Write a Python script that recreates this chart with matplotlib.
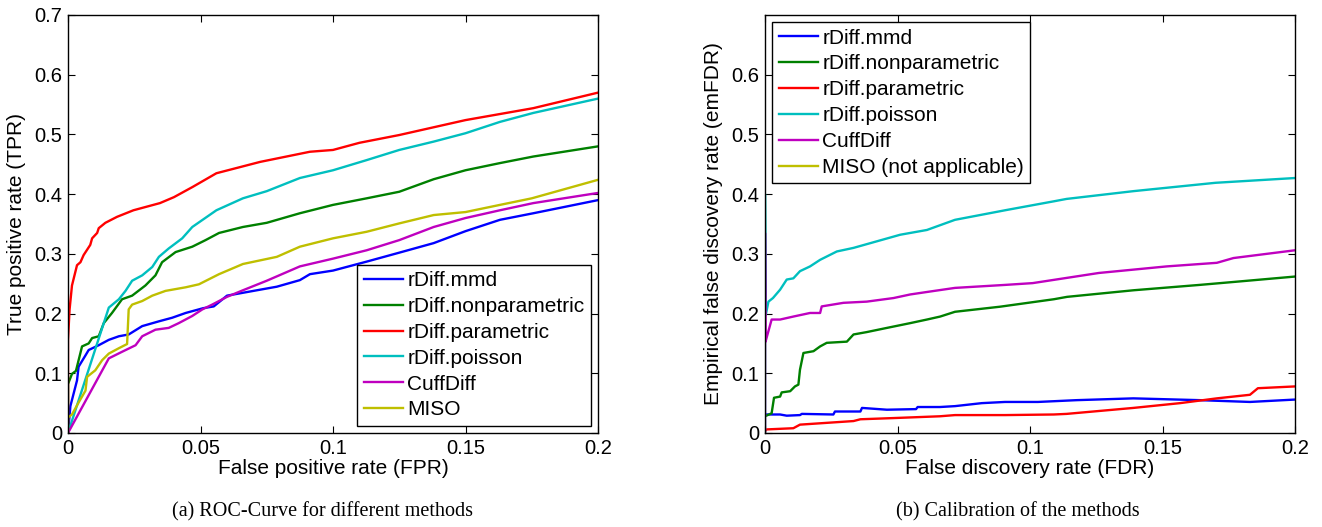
import numpy as np
import matplotlib.pyplot as plt
from matplotlib.ticker import FuncFormatter

plt.rcParams['font.family'] = ['Liberation Sans', 'DejaVu Sans']

# ---- (a) ROC curves: FPR vs TPR ----
roc_mmd_x = [0, 0.0009, 0.0034, 0.004, 0.0066, 0.0078, 0.0116, 0.0154, 0.0192, 0.0229, 0.028, 0.0343,
             0.0393, 0.0444, 0.051, 0.055, 0.060, 0.070, 0.0788, 0.0875, 0.0913, 0.100, 0.1127, 0.125,
             0.138, 0.150, 0.163, 0.1756, 0.200]
roc_mmd_y = [0, 0.045, 0.088, 0.111, 0.130, 0.139, 0.147, 0.156, 0.162, 0.165, 0.179, 0.187,
             0.193, 0.201, 0.209, 0.212, 0.230, 0.238, 0.245, 0.256, 0.266, 0.272, 0.287, 0.302,
             0.318, 0.338, 0.357, 0.368, 0.390]

roc_nonpar_x = [0, 0, 0.0015, 0.003, 0.0053, 0.0078, 0.0091, 0.0116, 0.0135, 0.0166, 0.0204, 0.0242,
                0.0292, 0.033, 0.0355, 0.0406, 0.0469, 0.0519, 0.057, 0.066, 0.075, 0.0875, 0.100,
                0.1127, 0.125, 0.138, 0.150, 0.163, 0.1756, 0.200]
roc_nonpar_y = [0, 0.082, 0.099, 0.104, 0.145, 0.150, 0.159, 0.162, 0.184, 0.201, 0.224, 0.230,
                0.247, 0.264, 0.286, 0.303, 0.312, 0.323, 0.335, 0.345, 0.352, 0.368, 0.382,
                0.393, 0.404, 0.425, 0.440, 0.452, 0.463, 0.480]

roc_par_x = [0, 0, 0.0006, 0.0015, 0.0034, 0.0047, 0.0059, 0.0084, 0.0091, 0.011, 0.0116, 0.0141,
             0.0185, 0.0247, 0.0347, 0.040, 0.047, 0.056, 0.0725, 0.0913, 0.100, 0.110, 0.125,
             0.150, 0.1756, 0.200]
roc_par_y = [0, 0.156, 0.207, 0.247, 0.281, 0.286, 0.298, 0.315, 0.326, 0.335, 0.343, 0.352,
             0.362, 0.373, 0.385, 0.395, 0.412, 0.435, 0.454, 0.471, 0.474, 0.486, 0.499,
             0.524, 0.544, 0.570]

roc_pois_x = [0, 0.0154, 0.0192, 0.0217, 0.0242, 0.028, 0.0318, 0.0343, 0.038, 0.0431, 0.0469, 0.056,
              0.066, 0.075, 0.0875, 0.100, 0.1127, 0.125, 0.138, 0.150, 0.163, 0.1756, 0.200]
roc_pois_y = [0, 0.210, 0.224, 0.238, 0.255, 0.264, 0.278, 0.295, 0.309, 0.326, 0.345, 0.373,
              0.393, 0.405, 0.427, 0.440, 0.457, 0.474, 0.488, 0.502, 0.521, 0.536, 0.560]

roc_cuff_x = [0, 0.0154, 0.0204, 0.0255, 0.028, 0.033, 0.038, 0.0418, 0.0469, 0.0507, 0.0544, 0.060,
              0.066, 0.075, 0.0875, 0.100, 0.1127, 0.125, 0.138, 0.150, 0.163, 0.1756, 0.200]
roc_cuff_y = [0, 0.125, 0.136, 0.147, 0.162, 0.173, 0.176, 0.184, 0.196, 0.207, 0.215, 0.228,
              0.239, 0.255, 0.279, 0.292, 0.306, 0.323, 0.345, 0.360, 0.373, 0.385, 0.402]

roc_miso_x = [0, 0, 0.0015, 0.004, 0.0066, 0.0072, 0.0103, 0.0129, 0.0154, 0.0192, 0.0223, 0.0229,
              0.0242, 0.028, 0.0318, 0.0368, 0.0444, 0.0494, 0.057, 0.066, 0.0788, 0.0875, 0.100,
              0.1127, 0.125, 0.138, 0.150, 0.163, 0.175, 0.200]
roc_miso_y = [0, 0.026, 0.031, 0.051, 0.071, 0.094, 0.105, 0.122, 0.133, 0.142, 0.149, 0.207,
              0.215, 0.221, 0.230, 0.238, 0.244, 0.249, 0.266, 0.283, 0.295, 0.312, 0.326,
              0.337, 0.351, 0.365, 0.370, 0.382, 0.393, 0.424]

# ---- (b) calibration: FDR vs empirical FDR ----
cal_mmd_x = [0, 0.0057, 0.0082, 0.0132, 0.0139, 0.0258, 0.0264, 0.036, 0.0366, 0.046, 0.057, 0.0576,
             0.066, 0.0717, 0.0818, 0.0906, 0.103, 0.1176, 0.139, 0.164, 0.183, 0.200]
cal_mmd_y = [0.031, 0.031, 0.029, 0.030, 0.032, 0.031, 0.036, 0.036, 0.042, 0.039, 0.040, 0.0435,
             0.0435, 0.045, 0.050, 0.052, 0.052, 0.055, 0.058, 0.055, 0.052, 0.056]

cal_nonpar_x = [0, 0.0025, 0.0034, 0.0057, 0.0063, 0.0095, 0.0113, 0.0126, 0.0132, 0.0145, 0.0183,
                0.0208, 0.0233, 0.0309, 0.0334, 0.0384, 0.046, 0.0548, 0.0611, 0.0661, 0.0717,
                0.0887, 0.109, 0.114, 0.139, 0.164, 0.177, 0.200]
cal_nonpar_y = [0.028, 0.033, 0.059, 0.061, 0.068, 0.070, 0.078, 0.081, 0.106, 0.134, 0.137,
                0.145, 0.151, 0.153, 0.165, 0.169, 0.176, 0.184, 0.190, 0.195, 0.203,
                0.2115, 0.224, 0.228, 0.239, 0.248, 0.253, 0.262]

cal_par_x = [0, 0.0006, 0.0107, 0.0132, 0.0233, 0.0334, 0.036, 0.0485, 0.066, 0.0717, 0.0906, 0.109,
             0.1138, 0.139, 0.1566, 0.1705, 0.183, 0.186, 0.200]
cal_par_y = [0.003, 0.006, 0.008, 0.014, 0.017, 0.020, 0.023, 0.025, 0.028, 0.030, 0.030, 0.031,
             0.032, 0.042, 0.050, 0.058, 0.064, 0.075, 0.078]

cal_pois_x = [0, 0, 0.0003, 0.0013, 0.003, 0.0057, 0.0082, 0.0107, 0.0132, 0.017, 0.0208, 0.0271,
              0.0334, 0.0422, 0.051, 0.0611, 0.0717, 0.0906, 0.109, 0.1138, 0.139, 0.170, 0.200]
cal_pois_y = [0, 0.400, 0.198, 0.220, 0.226, 0.240, 0.257, 0.259, 0.271, 0.279, 0.290, 0.304,
              0.310, 0.321, 0.332, 0.340, 0.357, 0.373, 0.388, 0.392, 0.405, 0.419, 0.427]

cal_cuff_x = [0, 0, 0.0002, 0.0025, 0.0057, 0.0107, 0.017, 0.0208, 0.0214, 0.0296, 0.0384, 0.0485,
              0.0548, 0.0624, 0.0717, 0.0906, 0.101, 0.126, 0.1516, 0.1705, 0.1768, 0.200]
cal_cuff_y = [0, 0.335, 0.153, 0.190, 0.190, 0.195, 0.201, 0.201, 0.212, 0.218, 0.220, 0.226,
              0.232, 0.237, 0.243, 0.248, 0.251, 0.268, 0.279, 0.285, 0.293, 0.306]

col_b = (0, 0, 1)
col_g = (0, 0.5, 0)
col_r = (1, 0, 0)
col_c = (0, 0.75, 0.75)
col_m = (0.75, 0, 0.75)
col_y = (0.75, 0.75, 0)
lw = 1.7

fig = plt.figure(figsize=(13.22, 5.27), dpi=100)
ax1 = fig.add_axes([68 / 1322, 1 - 433 / 527, 530 / 1322, 418 / 527])
ax2 = fig.add_axes([765 / 1322, 1 - 433 / 527, 530 / 1322, 418 / 527])

ax1.plot(roc_mmd_x, roc_mmd_y, color=col_b, lw=lw, label='rDiff.mmd')
ax1.plot(roc_nonpar_x, roc_nonpar_y, color=col_g, lw=lw, label='rDiff.nonparametric')
ax1.plot(roc_par_x, roc_par_y, color=col_r, lw=lw, label='rDiff.parametric')
ax1.plot(roc_pois_x, roc_pois_y, color=col_c, lw=lw, label='rDiff.poisson')
ax1.plot(roc_cuff_x, roc_cuff_y, color=col_m, lw=lw, label='CuffDiff')
ax1.plot(roc_miso_x, roc_miso_y, color=col_y, lw=lw, label='MISO')

ax2.plot(cal_mmd_x, cal_mmd_y, color=col_b, lw=lw, label='rDiff.mmd')
ax2.plot(cal_nonpar_x, cal_nonpar_y, color=col_g, lw=lw, label='rDiff.nonparametric')
ax2.plot(cal_par_x, cal_par_y, color=col_r, lw=lw, label='rDiff.parametric')
ax2.plot(cal_pois_x, cal_pois_y, color=col_c, lw=lw, label='rDiff.poisson')
ax2.plot(cal_cuff_x, cal_cuff_y, color=col_m, lw=lw, label='CuffDiff')
ax2.plot([], [], color=col_y, lw=lw, label='MISO (not applicable)')

fmt = FuncFormatter(lambda v, p: ('%g' % round(v, 4)))
for ax in (ax1, ax2):
    ax.set_xlim(0, 0.2)
    ax.set_ylim(0, 0.7)
    ax.set_xticks([0, 0.05, 0.1, 0.15, 0.2])
    ax.xaxis.set_major_formatter(fmt)
    ax.yaxis.set_major_formatter(fmt)
    ax.tick_params(direction='in', length=5, width=0.8, top=True, right=True,
                   labelsize=14.5, pad=4)
    for s in ax.spines.values():
        s.set_linewidth(1.0)

ax1.set_yticks(np.arange(0, 0.71, 0.1))
ax2.set_yticks(np.arange(0, 0.61, 0.1))

ax1.set_xlabel('False positive rate (FPR)', fontsize=15, labelpad=1)
ax1.set_ylabel('True positive rate (TPR)', fontsize=15, labelpad=6)
ax2.set_xlabel('False discovery rate (FDR)', fontsize=15, labelpad=1)
ax2.set_ylabel('Empirical false discovery rate (emFDR)', fontsize=15, labelpad=6)

leg_kw = dict(fontsize=15, fancybox=False, framealpha=1, edgecolor='black',
              handlelength=1.9, handletextpad=0.2, labelspacing=0.33,
              borderpad=0.3, borderaxespad=0.35)
l1 = ax1.legend(loc='lower right', **leg_kw)
l2 = ax2.legend(loc='upper left', **leg_kw)
for l in (l1, l2):
    l.get_frame().set_linewidth(1.0)

fig.text(322 / 1322, 1 - 512 / 527, '(a) ROC-Curve for different methods', ha='center', va='center',
         fontsize=14.5, family=['Liberation Serif'])
fig.text(1018 / 1322, 1 - 512 / 527, '(b) Calibration of the methods', ha='center', va='center',
         fontsize=14.5, family=['Liberation Serif'])

fig.savefig('out.png', dpi=100)
